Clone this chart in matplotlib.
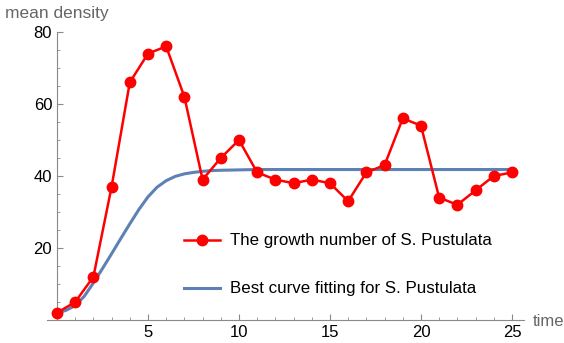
import matplotlib.pyplot as plt
import numpy as np

# growth data
time = np.arange(0, 26)
growth = [2, 5, 12, 37, 66, 74, 76, 62, 39, 45, 50, 41, 39, 38, 39, 38,
          33, 41, 43, 56, 54, 34, 32, 36, 40, 41]

# fitted curve
fit_t = [0, 0.5, 1, 1.5, 2, 2.5, 3, 3.5, 4, 4.5, 5, 5.5, 6, 6.5, 7, 7.5,
         8, 8.5, 9, 10, 11, 12, 15, 20, 25]
fit_y = [1.9, 2.7, 4.0, 6.6, 10.3, 14.3, 18.4, 22.6, 26.7, 30.7, 34.2, 36.9,
         38.7, 39.9, 40.6, 41.0, 41.3, 41.5, 41.6, 41.7, 41.8, 41.8, 41.8,
         41.8, 41.8]

plt.rcParams['font.family'] = ['Liberation Sans', 'DejaVu Sans']
axis_gray = '#8a8a8a'

fig = plt.figure(figsize=(5.64, 3.43), dpi=100)
ax = fig.add_axes([0.0833, 0.067, 0.8457, 0.8397])

ax.plot(time, growth, color='#ff0000', lw=1.8, marker='o', ms=7.5,
        label='The growth number of S. Pustulata', clip_on=False, zorder=3)
ax.plot(fit_t, fit_y, color='#5e81b5', lw=2.2,
        label='Best curve fitting for S. Pustulata', zorder=2)

ax.set_xlim(-0.55, 25.66)
ax.set_ylim(0, 80)

for s in ['top', 'right']:
    ax.spines[s].set_visible(False)
ax.spines['left'].set_position(('data', 0))
ax.spines['bottom'].set_position(('data', 0))
ax.spines['left'].set_color(axis_gray)
ax.spines['bottom'].set_color(axis_gray)

ax.set_xticks([5, 10, 15, 20, 25])
ax.set_xticks(np.arange(1, 26), minor=True)
ax.set_yticks([20, 40, 60, 80])
ax.set_yticks(np.arange(5, 80, 5), minor=True)
ax.tick_params(which='both', direction='in', color=axis_gray, labelsize=12,
               labelcolor='black')
ax.tick_params(which='major', length=4.5)
ax.tick_params(which='minor', length=2.5)

fig.text(0.009, 0.962, 'mean density', color='#666666', fontsize=12.5,
         va='center', ha='left')
fig.text(0.945, 0.064, 'time', color='#666666', fontsize=12,
         va='center', ha='left')

ax.legend(loc='upper left', bbox_to_anchor=(0.27, 0.33), frameon=False,
          fontsize=12.2, handlelength=2.1, handletextpad=0.6,
          labelspacing=1.95, borderpad=0)

fig.savefig('out.png', dpi=100)
